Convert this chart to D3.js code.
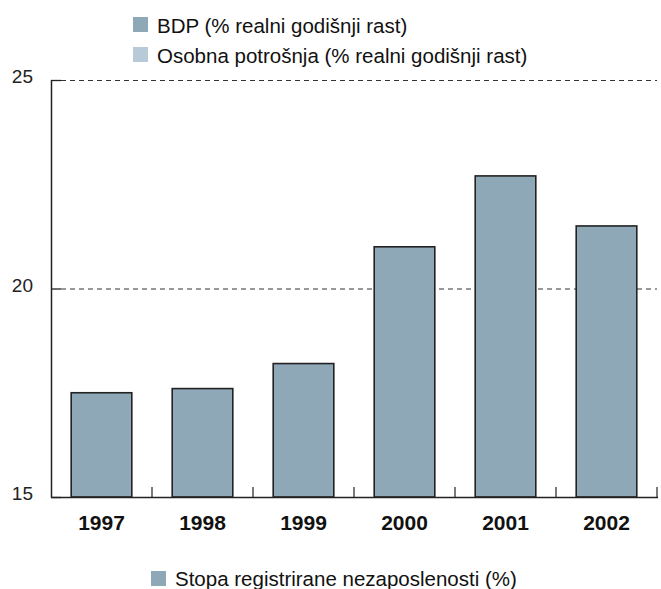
<!DOCTYPE html>
<html><head><meta charset="utf-8">
<script src="https://cdn.jsdelivr.net/npm/d3@7"></script>
<style>body{margin:0;background:#fff}svg{display:block;font-family:"Liberation Sans",Arial,sans-serif}</style>
</head><body><svg id="c" width="661" height="589"></svg>
<script>
const years = ["1997","1998","1999","2000","2001","2002"];
const unemployment = [17.5, 17.6, 18.2, 21.0, 22.7, 21.5];
const yTicks = [15, 20, 25];
const topLegend = ["BDP (% realni godišnji rast)", "Osobna potrošnja (% realni godišnji rast)"];
const topLegendColors = ["#8fa8b8", "#b8cad7"];
const bottomLegend = "Stopa registrirane nezaposlenosti (%)";

const svg = d3.select("#c");
const m = {l:51, r:657, t:80, b:497};
const x = d3.scaleBand().domain(years).range([m.l, m.r]).paddingInner(0.4).paddingOuter(0.2);
const band = d3.scaleBand().domain(years).range([m.l, m.r]);
const y = d3.scaleLinear().domain([15,25]).range([m.b, m.t]);

// grid
svg.append("g").selectAll("line").data(yTicks.filter(d=>d>15)).join("line")
  .attr("x1", m.l+10).attr("x2", m.r).attr("y1", d=>y(d)+0.5).attr("y2", d=>y(d)+0.5)
  .attr("stroke", "#333").attr("stroke-dasharray", "5,4").attr("stroke-width", 1);
svg.append("g").selectAll("line").data(yTicks).join("line")
  .attr("x1", m.l).attr("x2", m.l+10).attr("y1", d=>y(d)+0.5).attr("y2", d=>y(d)+0.5)
  .attr("stroke", "#222").attr("stroke-width", 1.3);

// bars
svg.append("g").selectAll("rect").data(years).join("rect")
  .attr("x", d=>x(d)).attr("width", x.bandwidth())
  .attr("y", (d,i)=>y(unemployment[i])).attr("height", (d,i)=>m.b - y(unemployment[i]))
  .attr("fill", "#8fa8b8").attr("stroke", "#222").attr("stroke-width", 1.6);

// axes
svg.append("line").attr("x1", m.l+0.5).attr("x2", m.l+0.5).attr("y1", m.t).attr("y2", m.b+0.5).attr("stroke","#222").attr("stroke-width",1.5);
svg.append("line").attr("x1", m.l).attr("x2", m.r+1).attr("y1", m.b+0.5).attr("y2", m.b+0.5).attr("stroke","#222").attr("stroke-width",1.5);
svg.append("g").selectAll("line").data(years.slice(1).concat(["end"])).join("line")
  .attr("x1", d=> d==="end" ? m.r : band(d)).attr("x2", d=> d==="end" ? m.r : band(d))
  .attr("y1", m.b-10).attr("y2", m.b).attr("stroke","#222").attr("stroke-width",1.2);

// labels
svg.append("g").selectAll("text").data(yTicks).join("text")
  .attr("x", 33).attr("y", d=>y(d)+3).attr("text-anchor","end")
  .attr("font-size", 19).attr("fill","#222").text(d=>d);
svg.append("g").selectAll("text").data(years).join("text")
  .attr("x", d=>x(d)+x.bandwidth()/2).attr("y", 530).attr("text-anchor","middle")
  .attr("font-size", 21).attr("font-weight","bold").attr("fill","#111").text(d=>d);

// legends
const lg = svg.append("g").selectAll("g").data(topLegend).join("g")
  .attr("transform", (d,i)=>`translate(133,${17+i*30})`);
lg.append("rect").attr("width",15).attr("height",15).attr("fill",(d,i)=>topLegendColors[i]);
lg.append("text").attr("x",24).attr("y",16).attr("font-size",20.5).attr("fill","#111").text(d=>d);

const bl = svg.append("g").attr("transform","translate(151,571)");
bl.append("rect").attr("width",15).attr("height",15).attr("fill","#8fa8b8");
bl.append("text").attr("x",24).attr("y",15).attr("font-size",20.5).attr("fill","#111").text(bottomLegend);
</script></body></html>
